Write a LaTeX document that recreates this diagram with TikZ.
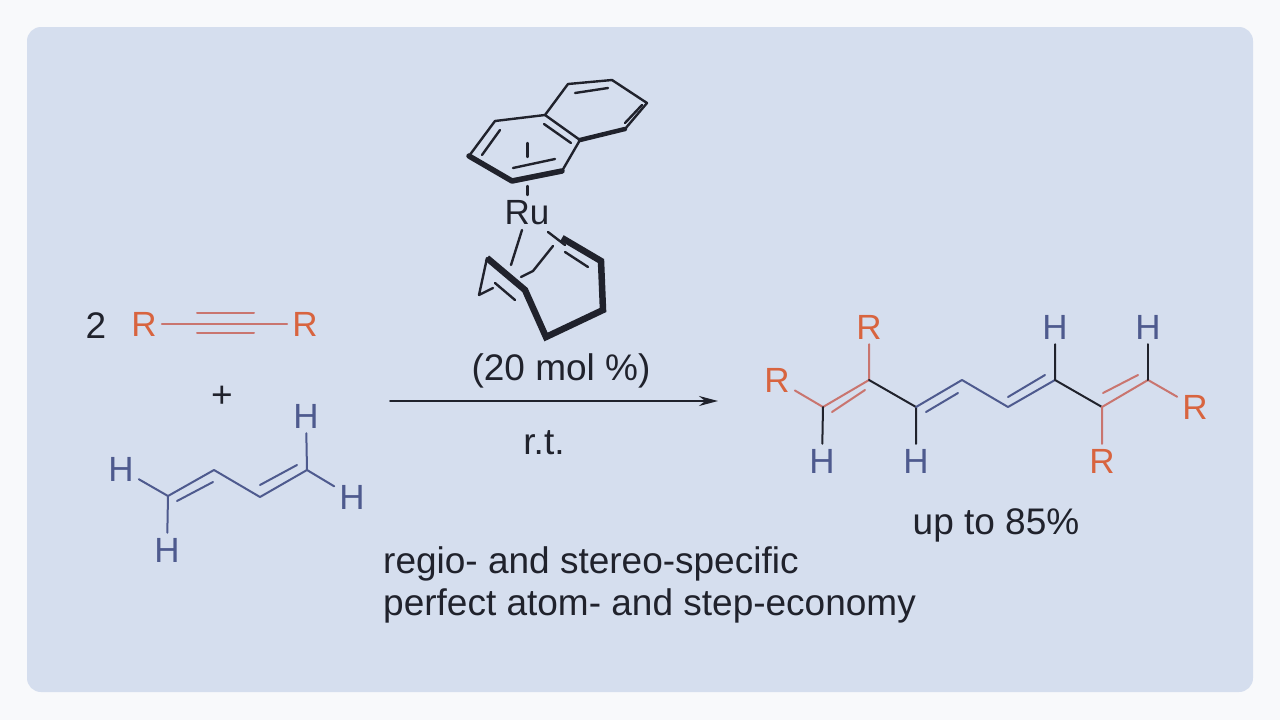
\documentclass[tikz,border=0pt]{standalone}
\usepackage{fontspec}
\setmainfont{Liberation Sans}
\usetikzlibrary{arrows.meta}
\definecolor{panelblue}{HTML}{D5DEEE}
\definecolor{outerwhite}{HTML}{F8F9FB}
\definecolor{rorange}{HTML}{D8643F}
\definecolor{hblue}{HTML}{4E5A8E}
\definecolor{rbond}{HTML}{C9756F}
\definecolor{inkdark}{HTML}{20222C}
\tikzset{
    txt/.style={font=\fontsize{37}{37}\selectfont, text=inkdark, inner sep=5pt},
    atomlabel/.style={txt, font=\fontsize{35}{35}\selectfont},
    rlabel/.style={atomlabel, text=rorange},
    hlabel/.style={atomlabel, text=hblue},
    bondb/.style={hblue, line width=2pt, line cap=round, line join=round},
    bondr/.style={rbond, line width=2pt, line cap=round},
    bondk/.style={inkdark, line width=2pt, line cap=round, line join=round},
    bondn/.style={inkdark, line width=2.4pt, line cap=round, line join=round},
    bondt/.style={inkdark, line width=5.5pt, line cap=round, line join=round},
    bondc/.style={inkdark, line width=6.5pt, line cap=butt, line join=miter},
}
\begin{document}
\begin{tikzpicture}[x=1pt,y=-1pt]
    \useasboundingbox (0,0) rectangle (1280,720);
    \fill[outerwhite] (0,0) rectangle (1280,720);
    \fill[panelblue, rounded corners=14pt] (27,27) rectangle (1253,692);

    % all the points the bonds run between
    \foreach \n/\x/\y in {
        ta/197/313, tb/254/313, tc/197/333, td/254/333,
        ba/168/496, bb/214/470, bc/260/497, bd/307/470,
        bai/177/501, bbi/213/482, bci/260/485, bdi/297/465,
        na/469/156, nb/495/121, nc/545/115, nd/568/84, ne/612/80,
        nf/647/103, ng/625/129, nh/580/140, ni/562/171, nj/512/181,
        nai/482/155, nbi/500/130, nci/544/124, nhi/571/143,
        ndi/575/93, nei/608/88, nfi/642/105, ngi/625/123,
        nji/513/168, nii/555/159, nsa/527.5/143, nsb/527.5/157,
        nsc/527.5/186, nsd/527.5/195,
        ca/487/258, cb/479/295, cc/493/288, cd/525/290, ce/546/337,
        cf/603/310, cg/601/261, ch/562/238, cai/495/283, cbi/515/300,
        chi/565/252, cgi/588/267,
        rua/522/230, rub/511/265, ruc/548/232, rud/565/245,
        arca/521/277, arcb/533/271, arcc/553/246,
        pa/823/407, pb/869/380, pc/916/407, pd/962/380,
        pe/1008/407, pf/1055/380, pg/1102/407, ph/1148/380,
        pai/832/412, pbi/865/390, pci/926/412, pdi/958/393,
        pei/1008/397, pfi/1045/375, pgi/1103/393, phi/1138/375,
        aa/390/401, ab/718/401}
        \coordinate (\n) at (\x,\y);

    % alkyne
    \node[txt] (two) at (96,326) {2};
    \node[rlabel] (ra) at (144,324) {R};
    \node[rlabel] (rb) at (305,324) {R};
    \draw[bondr] (ra) -- (rb);
    \draw[bondr] (ta) -- (tb);
    \draw[bondr] (tc) -- (td);
    \node[txt] (plus) at (222,397) {+};

    % butadiene
    \node[hlabel] (ha) at (121,469) {H};
    \node[hlabel] (hb) at (167,550) {H};
    \node[hlabel] (hc) at (306,416) {H};
    \node[hlabel] (hd) at (352,497) {H};
    \draw[bondb] (ha) -- (ba) -- (bb) -- (bc) -- (bd) -- (hd);
    \draw[bondb] (hb) -- (ba);
    \draw[bondb] (hc) -- (bd);
    \draw[bondb] (bai) -- (bbi);
    \draw[bondb] (bci) -- (bdi);

    % catalyst
    \node[atomlabel] (ru) at (527,213) {Ru};
    \draw[bondn] (na) -- (nb) -- (nc) -- (nd) -- (ne) -- (nf) -- (ng);
    \draw[bondn] (nc) -- (nh) -- (ni);
    \draw[bondt] (na) -- (nj) -- (ni);
    \draw[bondt, line width=4.5pt] (ng) -- (nh);
    \draw[bondn] (nai) -- (nbi);
    \draw[bondn] (nci) -- (nhi);
    \draw[bondn] (ndi) -- (nei);
    \draw[bondn] (nfi) -- (ngi);
    \draw[bondn] (nji) -- (nii);
    \draw[bondn] (nsa) -- (nsb);
    \draw[bondn] (nsc) -- (nsd);
    \draw[bondn] (ca) -- (cb) -- (cc);
    \draw[bondc] (ca) -- (cd) -- (ce) -- (cf) -- (cg) -- (ch);
    \draw[bondn] (cai) -- (cbi);
    \draw[bondn] (chi) -- (cgi);
    \draw[bondn] (rua) -- (rub);
    \draw[bondn] (ruc) -- (rud);
    \draw[bondn] (arca) -- (arcb) -- (arcc);

    % reaction arrow
    \node[txt] (load) at (561,371) {(20 mol \%)};
    \node[txt] (temp) at (544,443) {r.t.};
    \draw[bondk, -{Stealth[length=19pt,width=10pt]}] (aa) -- (ab);

    % product
    \node[rlabel] (rc) at (777,380) {R};
    \node[rlabel] (rd) at (869,327) {R};
    \node[rlabel] (re) at (1195,407) {R};
    \node[rlabel] (rf) at (1102,461) {R};
    \node[hlabel] (he) at (822,461) {H};
    \node[hlabel] (hf) at (916,461) {H};
    \node[hlabel] (hg) at (1055,327) {H};
    \node[hlabel] (hh) at (1148,327) {H};
    \draw[bondr] (rc) -- (pa) -- (pb) -- (rd);
    \draw[bondr] (pai) -- (pbi);
    \draw[bondk] (pa) -- (he);
    \draw[bondk] (pb) -- (pc) -- (hf);
    \draw[bondb] (pc) -- (pd) -- (pe) -- (pf);
    \draw[bondb] (pci) -- (pdi);
    \draw[bondb] (pei) -- (pfi);
    \draw[bondk] (hg) -- (pf) -- (pg);
    \draw[bondr] (rf) -- (pg) -- (ph) -- (re);
    \draw[bondr] (pgi) -- (phi);
    \draw[bondk] (ph) -- (hh);

    % captions
    \node[txt] (yield) at (996,525) {up to 85\%};
    \node[txt, anchor=base west, inner sep=0pt] (lineone) at (383,573) {regio- and stereo-specific};
    \node[txt, anchor=base west, inner sep=0pt] (linetwo) at (383,615) {perfect atom- and step-economy};
\end{tikzpicture}
\end{document}
